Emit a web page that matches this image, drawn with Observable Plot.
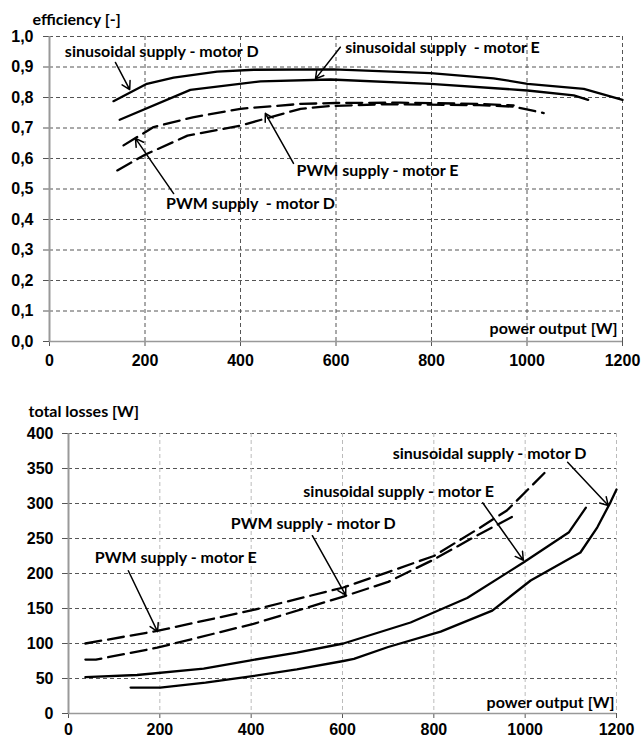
<!DOCTYPE html>
<html><head><meta charset="utf-8">
<script src="https://cdn.jsdelivr.net/npm/d3@7"></script>
<script src="https://cdn.jsdelivr.net/npm/@observablehq/plot@0.6"></script>
<style>
body{margin:0;background:#fff;}
#c svg{display:block;}
</style></head><body><div id="c"></div>
<script>
// ---------- shared ----------
const xTicks = [0, 200, 400, 600, 800, 1000, 1200];
const xTickLabels = ["0", "200", "400", "600", "800", "1000", "1200"];
const xTitle = "power output [W]";

// ---------- top chart: efficiency ----------
const effTitle = "efficiency [-]";
const effTicks = [0, 0.1, 0.2, 0.3, 0.4, 0.5, 0.6, 0.7, 0.8, 0.9, 1.0];
const effTickLabels = ["0,0", "0,1", "0,2", "0,3", "0,4", "0,5", "0,6", "0,7", "0,8", "0,9", "1,0"];
const effSinD = [[134,0.788],[204,0.845],[260,0.865],[351,0.885],[428,0.891],[595,0.892],[798,0.880],[930,0.863],[1001,0.845],[1119,0.828],[1200,0.792]];
const effSinE = [[147,0.727],[295,0.825],[442,0.853],[589,0.859],[798,0.845],[1001,0.823],[1098,0.807],[1128,0.792]];
const effPwmD = [[155,0.643],[218,0.703],[300,0.735],[400,0.763],[526,0.779],[600,0.782],[735,0.783],[900,0.779],[972,0.774]];
const effPwmE = [[142,0.561],[201,0.613],[289,0.675],[400,0.708],[526,0.763],[589,0.772],[700,0.778],[900,0.775],[972,0.770],[1035,0.749]];
const effLabels = [
  {x: 235, y: 0.948, text: "sinusoidal supply - motor D"},
  {x: 823, y: 0.962, text: "sinusoidal supply  - motor E"},
  {x: 687, y: 0.561, text: "PWM supply - motor E"},
  {x: 421, y: 0.452, text: "PWM supply  - motor D"}
];
const effArrows = [
  {x1: 138, y1: 0.915, x2: 168, y2: 0.826},
  {x1: 609, y1: 0.965, x2: 557, y2: 0.861},
  {x1: 511, y1: 0.584, x2: 452, y2: 0.748},
  {x1: 260, y1: 0.485, x2: 180, y2: 0.666}
];

// ---------- bottom chart: total losses ----------
const lossTitle = "total losses [W]";
const lossTicks = [0, 50, 100, 150, 200, 250, 300, 350, 400];
const lossTickLabels = ["0", "50", "100", "150", "200", "250", "300", "350", "400"];
const lossSinD = [[136,37],[201,37],[300,44],[399,53],[500,63],[602,75],[625,78],[700,95],[815,117],[928,147],[1012,190],[1121,230],[1158,266],[1187,302],[1200,320]];
const lossSinE = [[37,52],[150,55],[296,64],[399,76],[500,87],[602,100],[749,130],[873,165],[997,216],[1096,259],[1133,294]];
const lossPwmD = [[37,77],[60,77],[194,94],[405,128],[602,167],[700,188],[800,220],[888,252],[983,285]];
const lossPwmE = [[37,100],[194,118],[405,148],[602,180],[700,202],[800,225],[900,265],[960,290],[1049,348]];
const lossLabels = [
  {x: 922, y: 371, text: "sinusoidal supply - motor D"},
  {x: 723, y: 317, text: "sinusoidal supply - motor E"},
  {x: 536, y: 271, text: "PWM supply - motor D"},
  {x: 235, y: 223, text: "PWM supply - motor E"}
];
const lossArrows = [
  {x1: 1093, y1: 359, x2: 1182, y2: 297},
  {x1: 907, y1: 301, x2: 996, y2: 219},
  {x1: 534, y1: 254, x2: 607, y2: 169},
  {x1: 131, y1: 204, x2: 195, y2: 117}
];

const tickFont = "'Liberation Sans', Arial, sans-serif";
const annFont = "Lato, 'Open Sans', sans-serif";

function chart(o) {
  const lineOpts = (dash) => ({x: d => d[0], y: d => d[1], stroke: "black", strokeWidth: 2.3, strokeDasharray: dash, curve: "linear"});
  return Plot.plot({
    width: 644, height: o.height,
    marginTop: o.mt, marginBottom: o.mb, marginLeft: o.ml, marginRight: o.mr,
    style: {fontFamily: tickFont, background: "white"},
    x: {domain: [0, 1200]},
    y: {domain: o.ydomain},
    marks: [
      Plot.gridY(o.yTicks.filter(d => d > 0), {stroke: "#555", strokeOpacity: 1, strokeWidth: 1, strokeDasharray: "4,3"}),
      Plot.gridX(xTicks.filter(d => d > 0), {stroke: o.vgrid, strokeOpacity: 1, strokeWidth: 1, strokeDasharray: "4,3"}),
      Plot.axisY(o.yTicks, {tickSize: 6, tickPadding: o.ytp, fontSize: 16, fontWeight: "bold", fill: "black", stroke: "#555", tickFormat: (d, i) => o.yTickLabels[i], label: null}),
      Plot.axisX(xTicks, {tickSize: 5, tickPadding: o.xtp, fontSize: 16, fontWeight: "bold", fill: "black", stroke: "#555", tickFormat: (d, i) => xTickLabels[i], label: null}),
      Plot.ruleX([0], {stroke: "#999", strokeWidth: 2}),
      Plot.ruleY([0], {stroke: "#999", strokeWidth: 1.5}),
      Plot.line(o.sinD, lineOpts(null)),
      Plot.line(o.sinE, lineOpts(null)),
      Plot.line(o.pwmD, lineOpts("16,7")),
      Plot.line(o.pwmE, lineOpts("16,7")),
      Plot.arrow(o.arrows, {x1: "x1", y1: "y1", x2: "x2", y2: "y2", stroke: "black", strokeWidth: 1.5, headLength: 9, bend: 0}),
      Plot.text(o.labels, {x: "x", y: "y", text: "text", fontFamily: annFont, fontWeight: "bold", fontSize: 16, fill: "black", textAnchor: "middle"}),
      Plot.text([xTitle], {frameAnchor: "bottom-right", text: d => d, dx: o.xtdx, dy: o.xtdy, fontFamily: annFont, fontWeight: "bold", fontSize: 16, textAnchor: "end", lineAnchor: "middle"}),
      Plot.text([o.title], {frameAnchor: "top-left", text: d => d, dx: o.ytdx, dy: o.ytdy, fontFamily: annFont, fontWeight: "bold", fontSize: 16, textAnchor: "start", lineAnchor: "middle"})
    ]
  });
}

const c = document.getElementById("c");
c.append(chart({
  height: 385, mt: 36, mb: 44, ml: 49, mr: 22, ydomain: [0, 1],
  yTicks: effTicks, yTickLabels: effTickLabels, vgrid: "#555", ytp: 10, xtp: 8,
  sinD: effSinD, sinE: effSinE, pwmD: effPwmD, pwmE: effPwmE,
  arrows: effArrows, labels: effLabels, title: effTitle,
  xtdx: -5, xtdy: -13, ytdx: -17, ytdy: -17
}));
c.append(chart({
  height: 357, mt: 48, mb: 29, ml: 68, mr: 28, ydomain: [0, 400],
  yTicks: lossTicks, yTickLabels: lossTickLabels, vgrid: "#bbb", ytp: 9, xtp: 5,
  sinD: lossSinD, sinE: lossSinE, pwmD: lossPwmD, pwmE: lossPwmE,
  arrows: lossArrows, labels: lossLabels, title: lossTitle,
  xtdx: -2, xtdy: -11, ytdx: -40, ytdy: -22
}));
</script></body></html>
